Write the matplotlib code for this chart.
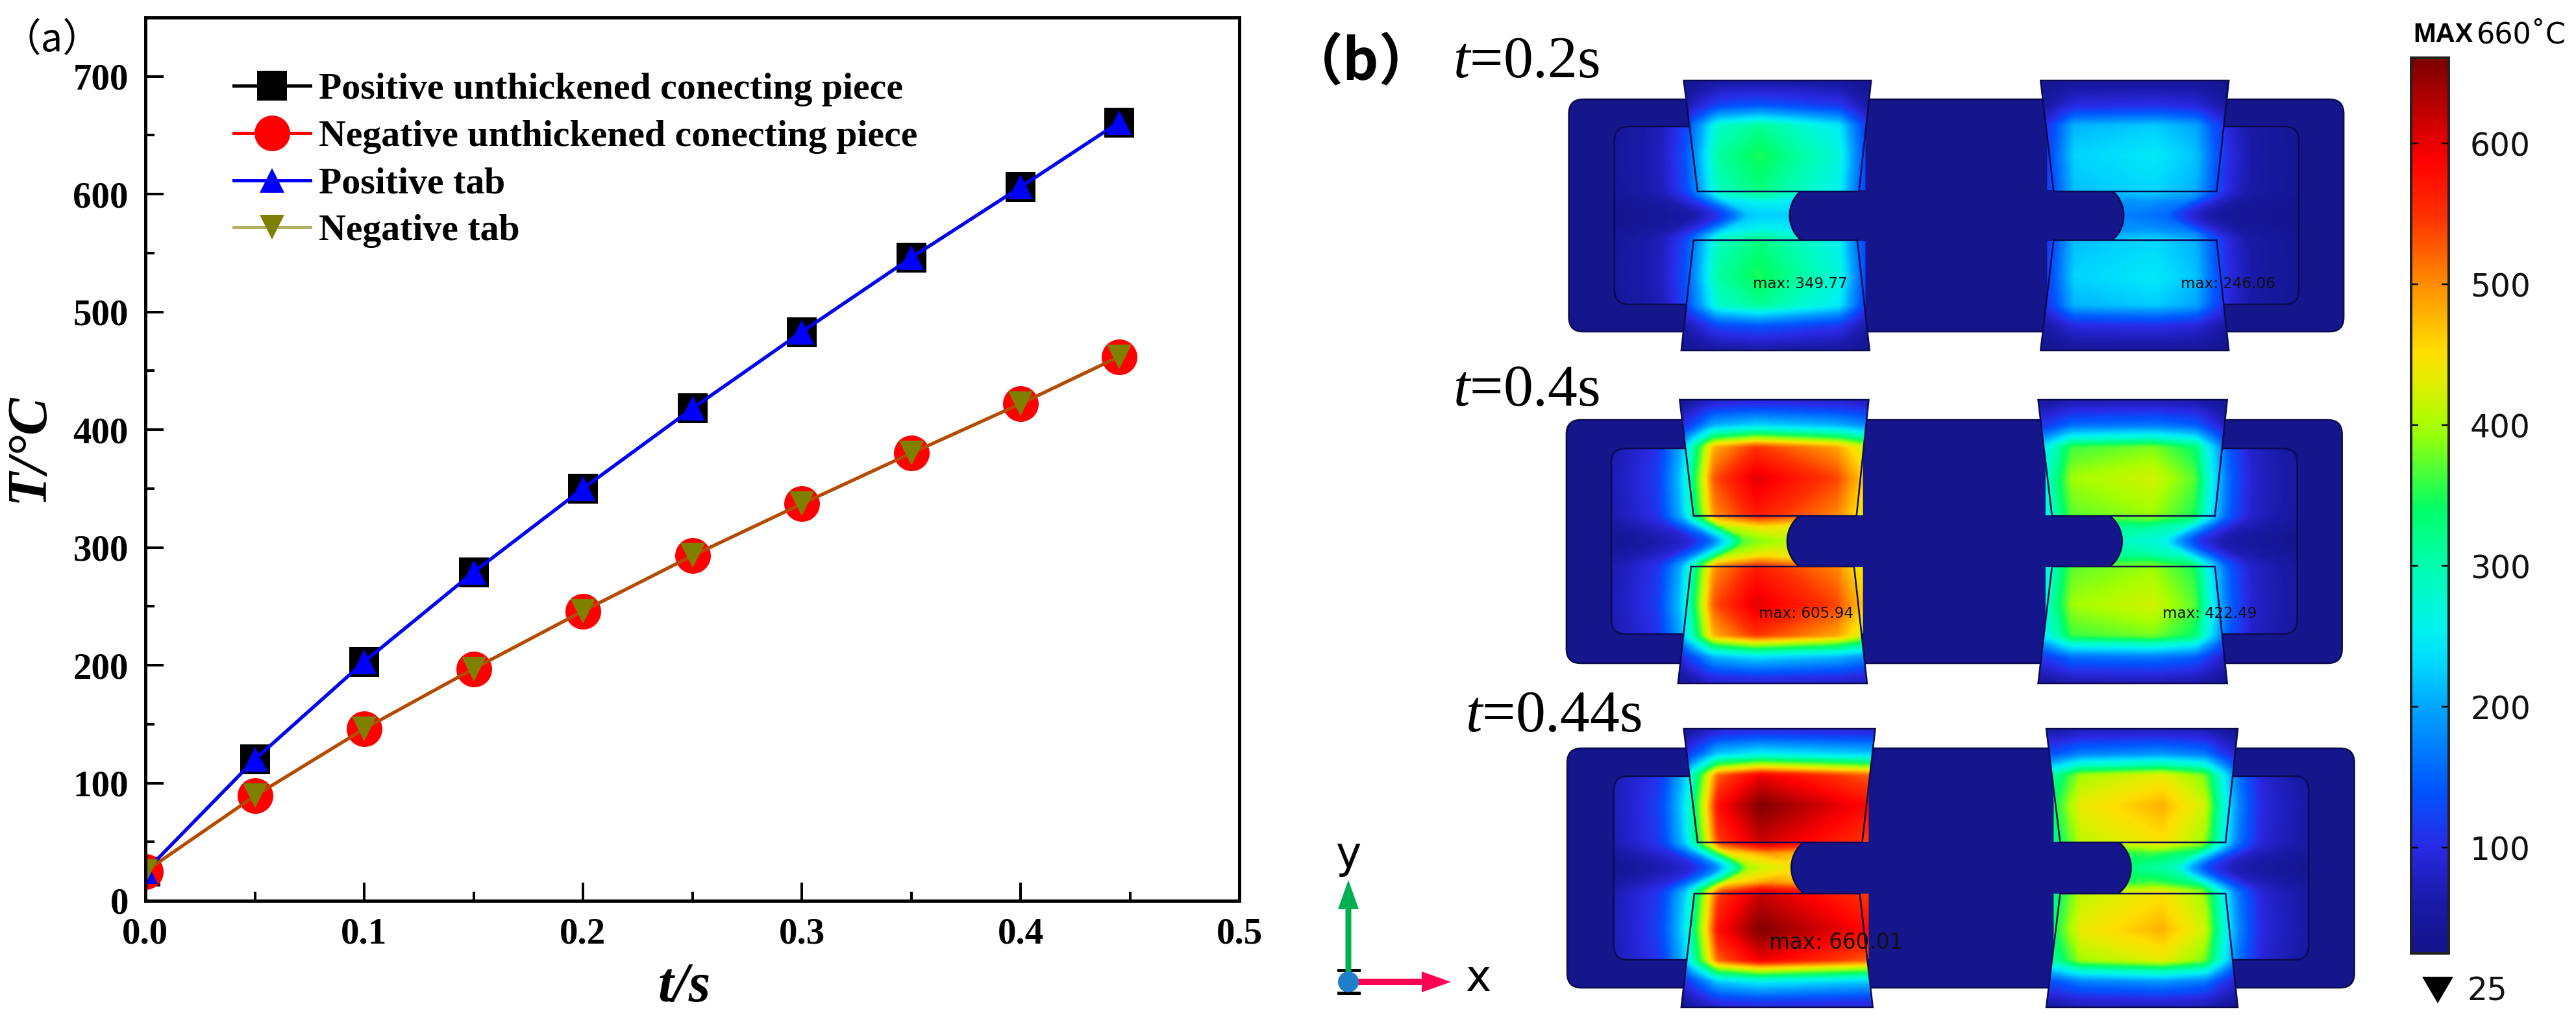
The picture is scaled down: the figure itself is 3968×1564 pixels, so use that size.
import numpy as np
import matplotlib
matplotlib.use('Agg')
import matplotlib.pyplot as plt
from matplotlib.colors import LinearSegmentedColormap, to_rgba
from matplotlib.patches import Polygon, FancyBboxPatch, FancyArrow, Circle
from matplotlib.ticker import MultipleLocator

# ---------- data ----------
time_s = [0.0, 0.05, 0.10, 0.15, 0.20, 0.25, 0.30, 0.35, 0.40, 0.445]
pos_piece = [25, 120, 203, 279, 350, 418, 483, 546, 606, 661]
neg_piece = [25, 89, 146, 197, 246, 293, 337, 380, 422, 462]
pos_tab = [25, 120, 203, 279, 350, 418, 483, 546, 606, 661]
neg_tab = [25, 89, 146, 197, 246, 293, 337, 380, 422, 462]
series_labels = ['Positive unthickened conecting piece', 'Negative unthickened conecting piece',
                 'Positive tab', 'Negative tab']

panel_times = ['0.2', '0.4', '0.44']
left_max = [349.77, 605.94, 660.01]
right_max = [246.06, 422.49, 480.0]
cbar_ticks = [100, 200, 300, 400, 500, 600]

# colour scale
cbar_T = [25, 60, 100, 140, 200, 230, 255, 300, 340, 400, 430, 455, 500, 550, 590, 620, 660]
cbar_c = ['#14148c', '#1a1aa8', '#2a2ae6', '#0055ff', '#00a8ff', '#00d8ff', '#00f4ee', '#00ffb0',
          '#00ff66', '#a8ff00', '#dfee00', '#ffdd00', '#ff9000', '#ff3000', '#ff0000', '#c80000', '#800000']

# temperature profiles across the pieces (fraction of peak)
prof_o = [-1.3, -1.0, -0.5, 0.23, 0.73, 0.88, 1.11, 1.38, 1.65, 1.88, 2.3]
prof_ox = [1.0, 1.0, 1.0, 1.0, 0.87, 0.64, 0.34, 0.16, 0.11, 0.08, 0.03]
prof_v = [0.0, 0.10, 0.18, 0.25, 0.45, 0.67, 0.73, 0.82, 0.97, 1.05]
prof_vy = [0.68, 0.74, 0.93, 0.95, 1.0, 0.90, 0.66, 0.36, 0.14, 0.10]
inner_level = [[0.68, 0.90], [0.85, 0.92], [0.88, 0.88]]
edge_fade = [[0.5, 0.5], [0.1, 0.3], [0.0, 0.2]]

W, H = 3968, 1564
plt.rcParams['font.family'] = ['Liberation Serif', 'DejaVu Sans']
plt.rcParams['font.weight'] = 'bold'
plt.rcParams['mathtext.fontset'] = 'custom'
plt.rcParams['mathtext.it'] = 'Liberation Serif:italic:normal'
plt.rcParams['mathtext.rm'] = 'Liberation Serif:normal'

fig = plt.figure(figsize=(W / 100, H / 100), dpi=100, facecolor='white')
PX = 0.72  # points per pixel


def axes_px(x0, x1, ytop, ybot, **kw):
    return fig.add_axes([x0 / W, 1 - ybot / H, (x1 - x0) / W, (ybot - ytop) / H], **kw)


# ---------- panel (a) ----------
ax = axes_px(224, 1909, 27, 1388)
ax.set_xlim(0, 0.5)
ax.set_ylim(0, 750)
line_w = 5 * PX
ax.plot(time_s, pos_piece, '-s', color='black', lw=line_w, ms=47 * PX, mew=0, label=series_labels[0], zorder=2)
ax.plot(time_s, neg_piece, '-o', color='#ff0000', lw=line_w, ms=55 * PX, mew=0, label=series_labels[1], zorder=2.1)
ax.plot(time_s, pos_tab, '-^', color='#0000ff', lw=line_w, ms=38 * PX, mew=0, label=series_labels[2], zorder=2.2)
ax.plot(time_s, neg_tab, '-v', color=to_rgba('#808000', 0.6), lw=line_w, ms=38 * PX, mew=0,
        markerfacecolor='#808000', label=series_labels[3], zorder=2.3)
for s in ax.spines.values():
    s.set_linewidth(5 * PX)
    s.set_zorder(5)
ax.xaxis.set_major_locator(MultipleLocator(0.1))
ax.xaxis.set_minor_locator(MultipleLocator(0.05))
ax.yaxis.set_major_locator(MultipleLocator(100))
ax.yaxis.set_minor_locator(MultipleLocator(50))
ax.set_yticks(range(0, 701, 100))
ax.tick_params(which='major', direction='in', length=28 * PX, width=4 * PX, labelsize=41, pad=26 * PX)
ax.tick_params(which='minor', direction='in', length=14 * PX, width=4 * PX)
ax.set_xticks([0, 0.1, 0.2, 0.3, 0.4, 0.5])
ax.set_xticklabels(['0.0', '0.1', '0.2', '0.3', '0.4', '0.5'])
leg = ax.legend(loc='upper left', bbox_to_anchor=(360 / W, 1 - 112 / H), bbox_transform=fig.transFigure,
                frameon=False, fontsize=41.6, borderpad=0, borderaxespad=0, handlelength=2.05,
                handletextpad=0.22, labelspacing=0.35, numpoints=1)
for t in leg.get_texts():
    t.set_fontweight('bold')
fig.text(1054 / W, 1 - 1522 / H, 't/s', fontsize=62, style='italic', weight='bold', ha='center', va='center')
fig.text(45 / W, 1 - 690 / H, 'T/°C', fontsize=62, style='italic', weight='bold', rotation=90, ha='center', va='center')

# ---------- panel (b): overlay in pixel coordinates ----------
axb = fig.add_axes([0, 0, 1, 1], facecolor='none')
axb.set_xlim(0, W)
axb.set_ylim(H, 0)
axb.axis('off')

pos = [(t - 25) / 635 for t in cbar_T]
cmap = LinearSegmentedColormap.from_list('comsol', list(zip(pos, cbar_c)))


def zx(v):
    return 2000 + v * 1.255


o_fine = np.linspace(-2.5, 3.5, 1201)
v_fine = np.linspace(-0.5, 1.6, 841)


def smooth(grid, knots, vals, width):
    y = np.interp(grid, knots, vals)
    n = int(width / (grid[1] - grid[0])) | 1
    k = np.hanning(n + 2)[1:-1]
    k /= k.sum()
    pad = n
    return np.convolve(np.pad(y, pad, mode='edge'), k, mode='same')[pad:-pad]


fx_f = smooth(o_fine, prof_o, prof_ox, 0.14)
fy_f = smooth(v_fine, prof_v, prof_vy, 0.05)

# geometry in zoom coordinates of panel (b)
geo = [
    dict(plate=(332, 1283, 153, 511), inner=(388, 1228, 195, 469), yc=332, r=38, notch=(603, 1013),
         tabs=[(473, 703, 124, 490, 688, 295), (485, 686, 370, 470, 701, 540),
               (911, 1142, 124, 927, 1127, 295), (927, 1127, 370, 911, 1142, 540)]),
    dict(plate=(329, 1281, 647, 1022), inner=(384, 1226, 691, 977), yc=834, r=39, notch=(600, 1011),
         tabs=[(468, 700, 616, 485, 685, 795), (482, 682, 873, 466, 698, 1053),
               (908, 1140, 616, 925, 1125, 795), (925, 1125, 873, 908, 1140, 1053)]),
    dict(plate=(330, 1296, 1153, 1522), inner=(387, 1240, 1196, 1479), yc=1337, r=39, notch=(605, 1022),
         tabs=[(473, 708, 1123, 490, 692, 1298), (486, 689, 1377, 470, 705, 1552),
               (918, 1153, 1123, 935, 1138, 1298), (935, 1138, 1377, 918, 1153, 1552)]),
]
dark = '#15158c'
edge = '#0a0a50'
label_pos = [[(2700, 438, 23), (3359, 438, 23)], [(2709, 945, 23), (3331, 945, 23)], [(2725, 1452, 32.7), None]]
title_pos = [(2238, 97), (2238, 603), (2257, 1105)]

for i, g in enumerate(geo):
    px0, px1, py0, py1 = g['plate']
    X0, X1 = zx(px0), zx(px1)
    axb.add_patch(FancyBboxPatch((X0 + 22, py0 + 22), X1 - X0 - 44, py1 - py0 - 44, boxstyle='round,pad=22,rounding_size=22',
                                 fc=dark, ec=edge, lw=2.5 * PX, zorder=1))
    ix0, ix1, iy0, iy1 = g['inner']
    IX0, IX1 = zx(ix0), zx(ix1)
    inner_p = FancyBboxPatch((IX0 + 22, iy0 + 22), IX1 - IX0 - 44, iy1 - iy0 - 44, boxstyle='round,pad=22,rounding_size=22',
                             fc='none', ec='none', zorder=2)
    axb.add_patch(inner_p)

    # temperature field
    t_l, t_r = g['tabs'][0], g['tabs'][2]
    cxl = zx((t_l[3] + t_l[4]) / 2)
    cxr = zx((t_r[3] + t_r[4]) / 2)
    hw = zx(t_l[4]) / 2 - zx(t_l[3]) / 2 + 6
    ytop, ybot = g['tabs'][0][2], g['tabs'][1][5]
    hh = (ybot - ytop) / 2
    xs = np.arange(X0, X1 + 2, 2.0)
    ys = np.arange(ytop - 2, ybot + 4, 2.0)
    XX, YY = np.meshgrid(xs, ys)
    v = np.abs(YY - g['yc']) / hh
    mid = (cxl + cxr) / 2
    field = np.zeros_like(XX)
    for side, (cx, sgn, peak) in enumerate([(cxl, 1, left_max[i]), (cxr, -1, right_max[i])]):
        o = sgn * (cx - XX) / hw
        o2 = o + 0.35 * np.exp(-(v / 0.10) ** 2)
        f = np.interp(o2, o_fine, fx_f) * np.interp(v, v_fine, fy_f)
        r = inner_level[i][side]
        f *= 1 - (1 - r) * np.clip((0.23 - o) / 1.23, 0, 1)
        f *= 1 - edge_fade[i][side] * np.clip((-0.72 - o) / 0.30, 0, 1)
        mask = (XX < mid) if side == 0 else (XX >= mid)
        field[mask] = (25 + (peak - 25) * f)[mask]

    def show(clip):
        im = axb.imshow(field, extent=(xs[0], xs[-1], ys[-1], ys[0]), cmap=cmap, vmin=25, vmax=660,
                        interpolation='bilinear', aspect='auto', zorder=clip.get_zorder())
        im.set_clip_path(clip)

    show(inner_p)
    axb.add_patch(FancyBboxPatch((IX0 + 22, iy0 + 22), IX1 - IX0 - 44, iy1 - iy0 - 44, boxstyle='round,pad=22,rounding_size=22',
                                 fc='none', ec=edge, lw=2.5 * PX, zorder=2.5))

    # central dark area with the two round notches
    nl, nr = zx(g['notch'][0]), zx(g['notch'][1])
    R = 50.0
    yc, rr = g['yc'], g['r']
    a = np.arcsin(rr / R)
    ang = np.linspace(-a, a, 40)
    y_top_c, y_bot_c = yc - rr - 1, yc + rr + 1
    left_arc = np.c_[nl + R - R * np.cos(ang), yc + R * np.sin(ang)]
    right_arc = np.c_[nr - R + R * np.cos(ang[::-1]), yc + R * np.sin(ang[::-1])]
    xc0, xc1 = zx(g['tabs'][0][4]) + 10, zx(g['tabs'][2][3]) - 10
    center = np.vstack([left_arc, [[xc0, y_bot_c], [xc0, iy1 + 30], [xc1, iy1 + 30], [xc1, y_bot_c]], right_arc,
                        [[xc1, y_top_c], [xc1, iy0 - 30], [xc0, iy0 - 30], [xc0, y_top_c]]])
    axb.add_patch(Polygon(center, closed=True, fc=dark, ec='none', zorder=2.6))
    axb.plot(left_arc[:, 0], left_arc[:, 1], color=edge, lw=2.5 * PX, zorder=2.7)
    axb.plot(right_arc[:, 0], right_arc[:, 1], color=edge, lw=2.5 * PX, zorder=2.7)

    # the four tabs
    for tb in g['tabs']:
        a0, a1, ya, b0, b1, yb = tb
        tab_pts = [(zx(a0), ya), (zx(a1), ya), (zx(b1), yb), (zx(b0), yb)]
        p = Polygon(tab_pts, closed=True, fc='none', ec='none', zorder=3)
        axb.add_patch(p)
        show(p)
        axb.add_patch(Polygon(tab_pts, closed=True, fc='none', ec=edge, lw=2.5 * PX, zorder=3.2))

    # texts
    for lab, val in zip(label_pos[i], (left_max[i], right_max[i])):
        if lab is not None:
            axb.text(lab[0], lab[1], f'max: {val:.2f}', fontsize=lab[2] * PX, family='DejaVu Sans', weight='normal',
                     color='#111111', ha='left', va='center', zorder=6)
    axb.text(title_pos[i][0], title_pos[i][1], '$\\mathit{t}$=' + panel_times[i] + 's', fontsize=66, weight='normal',
             ha='left', va='center', zorder=6)

axb.set_xlim(0, W)
axb.set_ylim(H, 0)

axb.text(80, 62, '（a）', fontsize=43, family='Noto Sans CJK SC', weight='normal', ha='center', va='center')
axb.text(2097, 97, '（b）', fontsize=62, family='Noto Sans CJK SC', weight='bold', ha='center', va='center')

# triad
for yy in (1495, 1530):
    axb.plot([2062, 2093], [yy, yy], color='black', lw=5 * PX, zorder=6)
axb.add_patch(FancyArrow(2077, 1500, 0, -144, width=9, head_width=32, head_length=45, length_includes_head=True,
                         color='#00b050', lw=0, zorder=6))
axb.add_patch(FancyArrow(2085, 1513, 150, 0, width=10, head_width=32, head_length=45, length_includes_head=True,
                         color='#ff0055', lw=0, zorder=6))
axb.add_patch(Circle((2077, 1513), 16, fc='#1f7fc8', ec='none', zorder=7))
axb.text(2077, 1318, 'y', fontsize=48, family='DejaVu Sans', weight='normal', ha='center', va='center')
axb.text(2277, 1508, 'x', fontsize=48, family='DejaVu Sans', weight='normal', ha='center', va='center')

# ---------- colour bar ----------
cax = axes_px(3714, 3772, 89, 1469)
grad = np.linspace(661, 25, 512).reshape(-1, 1)
cax.imshow(grad, extent=(0, 1, 25, 661), cmap=cmap, vmin=25, vmax=660, aspect='auto', interpolation='bilinear')
cax.set_xticks([])
cax.set_yticks(cbar_ticks)
cax.yaxis.tick_right()
cax.tick_params(axis='y', direction='in', length=11 * PX, width=2.5 * PX, left=True, right=True, labelleft=False,
                labelright=True, labelsize=35, pad=33 * PX)
for lbl in cax.get_yticklabels():
    lbl.set_family('DejaVu Sans')
    lbl.set_weight('normal')
    lbl.set_color('#111111')
for s in cax.spines.values():
    s.set_linewidth(4 * PX)
    s.set_color('#222222')

axb.add_patch(Polygon([(3731, 1505), (3779, 1505), (3755, 1546)], closed=True, fc='black', ec='none', zorder=6))
axb.text(3801, 1527, '25', fontsize=35, family='DejaVu Sans', weight='normal', color='#111111', ha='left', va='center')
axb.text(3717, 54, 'MAX', fontsize=30, family='Liberation Sans', weight='bold', ha='left', va='center')
axb.text(3953, 54, '660˚C', fontsize=32, family='DejaVu Sans', weight='normal', ha='right', va='center')

fig.savefig('out.png', dpi=100)
